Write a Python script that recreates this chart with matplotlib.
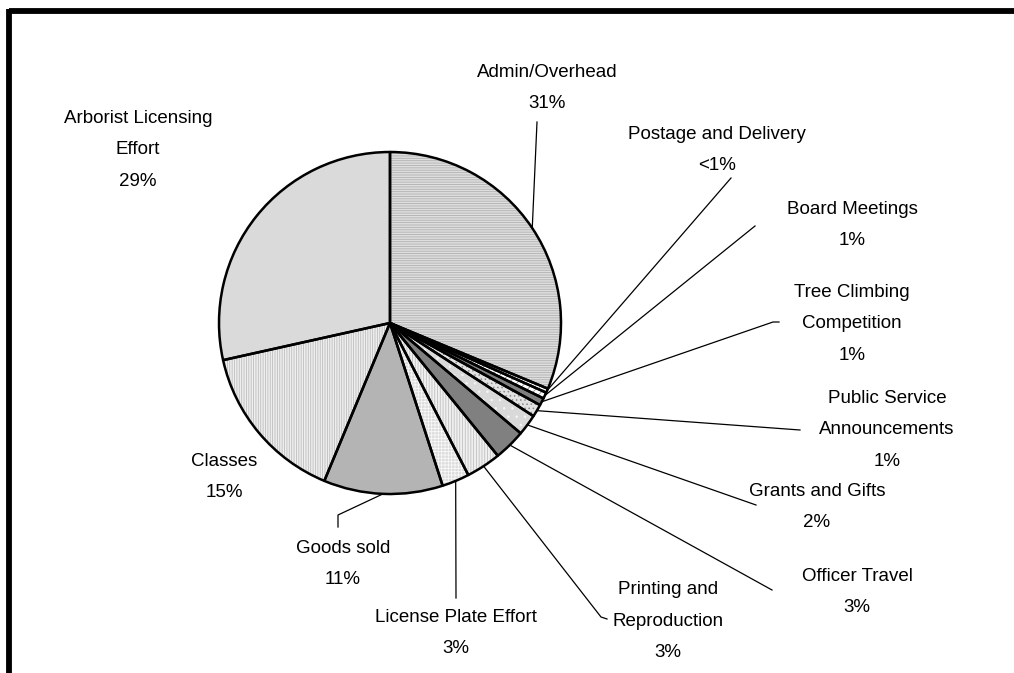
import numpy as np
import matplotlib
matplotlib.use("Agg")
import matplotlib.pyplot as plt

# slices, clockwise from 12 o'clock (percent)
categories = [
    "Admin/Overhead",
    "Postage and Delivery",
    "Board Meetings",
    "Tree Climbing\nCompetition",
    "Public Service\nAnnouncements",
    "Grants and Gifts",
    "Officer Travel",
    "Printing and\nReproduction",
    "License Plate Effort",
    "Goods sold",
    "Classes",
    "Arborist Licensing\nEffort",
]
shares = [31.4, 0.4, 0.6, 0.7, 1.2, 2.0, 3.0, 3.3, 2.6, 11.3, 15.3, 28.6]
pct_labels = ["31%", "<1%", "1%", "1%", "1%", "2%", "3%", "3%", "3%", "11%", "15%", "29%"]

face_colors = ["#dedede", "#ffffff", "#ffffff", "#7f7f7f", "#e2e2e2", "#d9d9d9",
               "#808080", "#f0f0f0", "#dcdcdc", "#b4b4b4", "#eeeeee", "#dadada"]
hatches = ["-------", "||||", "////", None, "....", "..", None, "||||||", "+++++", None, "|||||||", None]
hatch_colors = ["#b0b0b0", "#c0c0c0", "#8a8a8a", None, "#8a8a8a", "#f4f4f4",
                None, "#c0c0c0", "#f8f8f8", None, "#bdbdbd", None]

W, H = 1014, 673
center = (390, H - 323)
radius = 171

# label block centers (pixels, y down) and leader-line end points
label_pos = [(547, 88), (717, 150), (852, 225), (852, 324), (887, 430), (817, 507),
             (857, 592), (668, 621), (456, 633), (343, 564), (224, 477), (138, 150)]
leader_pts = [
    [(537, 122)],
    [(731, 178)],
    [(755, 226)],
    [(773, 322), (779, 322)],
    [(800, 430)],
    [(756, 505)],
    [(772, 590)],
    [(601, 617), (607, 619)],
    [(456, 598)],
    [(338, 515), (338, 527)],
    None,
    None,
]

plt.rcParams["font.family"] = ["Liberation Sans", "DejaVu Sans"]
plt.rcParams["hatch.linewidth"] = 0.6

fig = plt.figure(figsize=(W / 100, H / 100), dpi=100)
ax = fig.add_axes([0, 0, 1, 1])

wedges, _ = ax.pie(
    shares, colors=face_colors, startangle=90, counterclock=False,
    center=center, radius=radius, frame=False,
    wedgeprops=dict(edgecolor="none", linewidth=0),
)
for w, h, hc in zip(wedges, hatches, hatch_colors):
    if h is None:
        continue
    ax.add_patch(matplotlib.patches.Wedge(
        w.center, w.r, w.theta1, w.theta2, facecolor="none",
        edgecolor=hc, linewidth=0, hatch=h))
for w in wedges:
    ax.add_patch(matplotlib.patches.Wedge(
        w.center, w.r, w.theta1, w.theta2, facecolor="none",
        edgecolor="black", linewidth=1.8, joinstyle="round"))

for w, name, pct, (lx, ly), pts in zip(wedges, categories, pct_labels, label_pos, leader_pts):
    ax.text(lx, H - ly, name + "\n" + pct, ha="center", va="center",
            fontsize=13.5, linespacing=2.1, color="black")
    if pts is None:
        continue
    mid = np.deg2rad((w.theta1 + w.theta2) / 2)
    xs = [center[0] + radius * np.cos(mid)] + [p[0] for p in pts]
    ys = [center[1] + radius * np.sin(mid)] + [H - p[1] for p in pts]
    ax.plot(xs, ys, color="black", linewidth=0.9)

# chart frame (top and left edges are visible)
ax.plot([8.5, W], [H - 11, H - 11], color="black", linewidth=4.2, solid_capstyle="butt")
ax.plot([8.5, 8.5], [H - 9, 0], color="black", linewidth=4.2, solid_capstyle="butt")

ax.set_xlim(0, W)
ax.set_ylim(0, H)
ax.set_aspect("equal")
ax.axis("off")

fig.savefig("out.png", dpi=100)
